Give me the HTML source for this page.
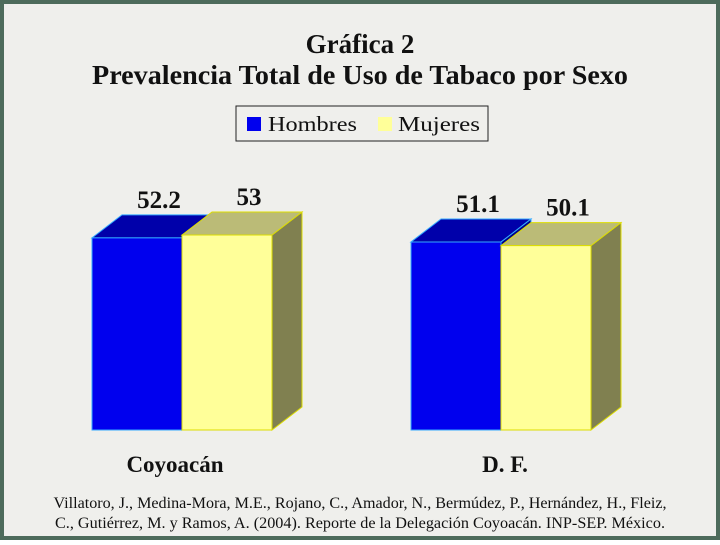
<!DOCTYPE html>
<html><head><meta charset="utf-8"><style>
body{margin:0;width:720px;height:540px;overflow:hidden;background:#fff}
svg text{font-family:"Liberation Serif",serif}
</style></head><body>
<svg width="720" height="540">
<rect x="0" y="0" width="720" height="540" fill="#4d6b5b"/>
<rect x="4" y="4" width="712" height="532" fill="#efefec"/>
<text x="360" y="53" text-anchor="middle" font-size="27" font-weight="bold" fill="#111">Gráfica 2</text>
<text x="360" y="84" text-anchor="middle" font-size="27" font-weight="bold" fill="#111" textLength="536" lengthAdjust="spacingAndGlyphs">Prevalencia Total de Uso de Tabaco por Sexo</text>
<g>
<rect x="236" y="106" width="252" height="35" fill="#efefec" stroke="#222" stroke-width="1"/>
<rect x="247" y="117" width="14" height="14" fill="#0000ee"/>
<text x="268" y="131" font-size="21" fill="#111" textLength="89" lengthAdjust="spacingAndGlyphs">Hombres</text>
<rect x="378" y="117" width="14" height="14" fill="#ffff99"/>
<text x="398" y="131" font-size="21" fill="#111" textLength="82" lengthAdjust="spacingAndGlyphs">Mujeres</text>
</g>
<g id="bars"></g>
<text x="175" y="472" text-anchor="middle" font-size="23" font-weight="bold" fill="#111">Coyoacán</text>
<text x="505" y="472" text-anchor="middle" font-size="23" font-weight="bold" fill="#111">D. F.</text>
<text x="360" y="508" text-anchor="middle" font-size="16" fill="#111" textLength="613" lengthAdjust="spacingAndGlyphs">Villatoro, J., Medina-Mora, M.E., Rojano, C., Amador, N., Bermúdez, P., Hernández, H., Fleiz,</text>
<text x="360" y="528" text-anchor="middle" font-size="16" fill="#111" textLength="610" lengthAdjust="spacingAndGlyphs">C., Gutiérrez, M. y Ramos, A. (2004). Reporte de la Delegación Coyoacán. INP-SEP. México.</text>
</svg>
<script>
const categories=["Coyoacán","D. F."];
const hombres=[52.2,51.1];
const mujeres=[53,50.1];
const base=430, scale=3.68, dx=30, dy=-23, bw=90;
const groupX=[92,411];
const g=document.getElementById('bars');
const NS="http://www.w3.org/2000/svg";
function yOf(v){return base-v*scale;}
function poly(pts,fill,stroke){const p=document.createElementNS(NS,'polygon');p.setAttribute('points',pts.map(a=>a.join(',')).join(' '));p.setAttribute('fill',fill);p.setAttribute('stroke',stroke);p.setAttribute('stroke-width','1');return p;}
function bar(x,v,cols,name){
  const y=yOf(v);
  const grp=document.createElementNS(NS,'g');
  
  
  grp.appendChild(poly([[x+bw,y],[x+bw+dx,y+dy],[x+bw+dx,base+dy],[x+bw,base]],cols[2],cols[3]));
  grp.appendChild(poly([[x,y],[x+dx,y+dy],[x+bw+dx,y+dy],[x+bw,y]],cols[1],cols[3]));
  grp.appendChild(poly([[x,y],[x+bw,y],[x+bw,base],[x,base]],cols[0],cols[3]));
  g.appendChild(grp);
  const t=document.createElementNS(NS,'text');
  t.setAttribute('x',x+bw/2+22);t.setAttribute('y',y+dy-7);
  t.setAttribute('text-anchor','middle');t.setAttribute('font-size','25');t.setAttribute('font-weight','bold');t.setAttribute('fill','#111');
  
  
  t.textContent=String(v);
  g.appendChild(t);
}
categories.forEach((c,i)=>{
  const x=groupX[i];
  bar(x,hombres[i],['#0000ee','#0000aa','#00008a','#33aaff'],'bar-hombres-'+i);
  bar(x+bw,mujeres[i],['#ffff99','#bbbb77','#808050','#dddd00'],'bar-mujeres-'+i);
});
</script>
</body></html>
